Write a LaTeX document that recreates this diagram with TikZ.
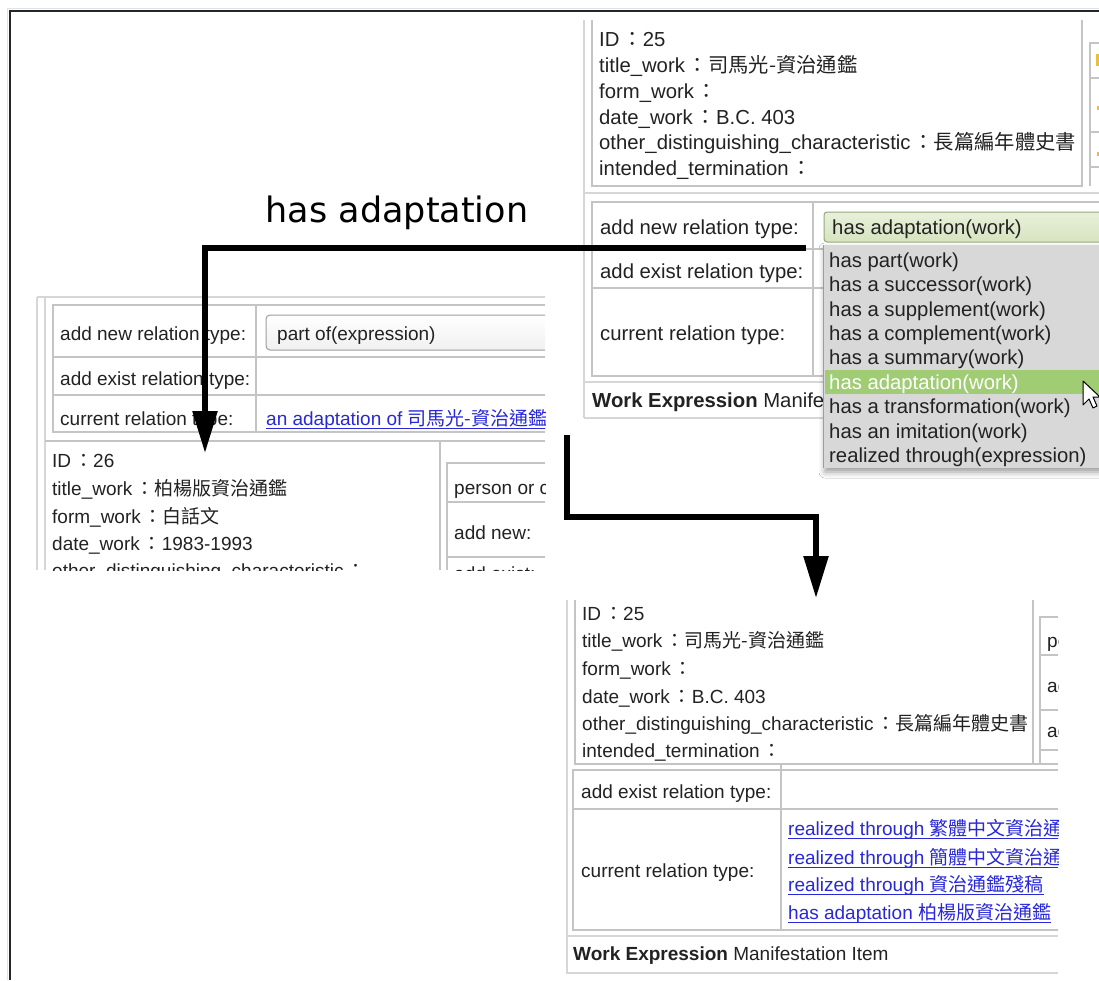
\documentclass[tikz,border=0pt]{standalone}
\usepackage{fontspec}
\setmainfont{Liberation Sans}
\newfontfamily\cjkfont{Noto Sans CJK TC}
\newfontfamily\headfont{DejaVu Sans}
\usetikzlibrary{arrows.meta,shadows.blur}
\newcommand\zh[1]{{\cjkfont #1}}
\newcommand\fwc{\hspace{3pt}\zh{：}}
\definecolor{ink}{RGB}{34,34,34}
\definecolor{rule}{RGB}{196,196,196}
\definecolor{rulelight}{RGB}{214,214,214}
\definecolor{linkblue}{RGB}{40,40,215}
\definecolor{menugray}{RGB}{216,216,216}
\definecolor{menuhi}{RGB}{160,204,116}
\definecolor{selgreen}{RGB}{214,228,190}
\definecolor{selborder}{RGB}{150,168,122}
\definecolor{framegray}{RGB}{221,227,238}
\definecolor{marker}{RGB}{236,190,60}

\tikzset{
  ui/.style={anchor=base west, inner sep=0pt, font=\fontsize{20.3}{24}\selectfont, text=ink},
  uis/.style={ui, font=\fontsize{19}{23}\selectfont},
  uilink/.style={uis, text=linkblue},
  hiitem/.style={ui, text=white},
  cell/.style={draw=rule, line width=1.3pt},
  outer/.style={draw=rulelight, line width=1.3pt},
  bigarrow/.style={line width=5.5pt, line join=miter, -{Triangle[length=42pt,width=24pt]}},
  headline/.style={font=\headfont\fontsize{35}{40}\selectfont, text=black, inner sep=0pt}
}
% a blue underlined link text
\newcommand\uilinknode[3]{%
  \node[uilink] (#1) at #2 {#3};
  \draw[linkblue, line width=1pt] ([yshift=-3pt]#1.base west) -- ([yshift=-3pt]#1.base east);}

\begin{document}
\begin{tikzpicture}[x=1pt, y=-1pt]
\useasboundingbox (0,0) rectangle (1099,980);
\fill[white] (0,0) rectangle (1099,980);

% page frame
\draw[framegray, line width=1pt] (7,980) -- (7,8) -- (1099,8);
\draw[black!85, line width=2pt] (10,980) -- (10,11) -- (1099,11);

% ---------- work record 25 with the relation menu open ----------
\begin{scope}
\clip (580,18) rectangle (1099,482);
% info cell
\draw[outer] (584,20) -- (584,418);
\draw[cell] (592,20) -- (592,186) -- (1082,186) -- (1082,20);
\draw[outer] (584,193) -- (1099,193);
% side table
\draw[cell] (1099,43) -- (1090,43) -- (1090,186);
\foreach \yy in {78,132,167} \draw[cell] (1090,\yy) -- (1099,\yy);
\fill[marker] (1096,54) rectangle (1099,66);
\fill[marker] (1097,106) rectangle (1099,110);
\fill[marker] (1097,152) rectangle (1099,156);
\node[ui] (a1) at (599,46)  {ID\fwc 25};
\node[ui] (a2) at (599,72)  {title\_work\fwc\zh{司馬光-資治通鑑}};
\node[ui] (a3) at (599,98)  {form\_work\fwc};
\node[ui] (a4) at (599,124) {date\_work\fwc B.C. 403};
\node[ui] (a5) at (599,149) {other\_distinguishing\_characteristic\fwc\zh{長篇編年體史書}};
\node[ui] (a6) at (599,175) {intended\_termination\fwc};
% relation table
\draw[cell] (1099,202) -- (592,202) -- (592,376) -- (1099,376);
\draw[cell] (813,202) -- (813,376);
\draw[cell] (592,249) -- (1099,249);
\draw[cell] (592,288) -- (1099,288);
\draw[outer] (584,382) -- (1099,382);
\draw[outer] (584,418) -- (1099,418);
\node[ui] (b1) at (600,234) {add new relation type:};
\node[ui] (b2) at (600,278) {add exist relation type:};
\node[ui] (b3) at (600,340) {current relation type:};
\begin{scope}
\clip (584,384) rectangle (822,416);
\node[ui] (b4) at (592,407) {\textbf{Work Expression} Manifestation Item};
\end{scope}
% select box
\draw[selborder, line width=1pt, rounded corners=3pt, top color=selgreen!55, bottom color=selgreen]
  (824,212) rectangle (1110,242);
\node[ui] (sel) at (832,234) {has adaptation(work)};
% drop-down list
\fill[menugray, blur shadow={shadow xshift=2pt, shadow yshift=-4pt, shadow blur radius=6pt}]
  (823,245) rectangle (1110,468);
\draw[rule!80!black, line width=1pt] (823,468) -- (823,245);
\fill[menuhi] (825,370) rectangle (1110,394);
\node[ui] (m1) at (829,267) {has part(work)};
\node[ui] (m2) at (829,291) {has a successor(work)};
\node[ui] (m3) at (829,316) {has a supplement(work)};
\node[ui] (m4) at (829,340) {has a complement(work)};
\node[ui] (m5) at (829,364) {has a summary(work)};
\node[hiitem] (m6) at (829,389) {has adaptation(work)};
\node[ui] (m7) at (829,413) {has a transformation(work)};
\node[ui] (m8) at (829,438) {has an imitation(work)};
\node[ui] (m9) at (829,462) {realized through(expression)};
% mouse pointer
\draw[black, fill=white, line width=1pt, line join=round]
  (1083,381) -- (1083,405) -- (1089,399) -- (1093,408) -- (1097,406) -- (1093,397) -- (1100,397) -- cycle;
\end{scope}

% ---------- work record 26 ----------
\begin{scope}
\clip (30,290) rectangle (545,570);
\draw[outer] (37,297) -- (545,297);
\draw[outer] (37,297) -- (37,570);
\draw[outer] (45,297) -- (45,570);
\draw[cell] (545,305) -- (53,305) -- (53,432) -- (545,432);
\draw[cell] (256,305) -- (256,432);
\draw[cell] (53,357) -- (545,357);
\draw[cell] (53,395) -- (545,395);
\draw[cell] (45,441) -- (545,441);
\draw[cell] (440,441) -- (440,570);
\node[uis] (c1) at (60,340) {add new relation type:};
\node[uis] (c2) at (60,385) {add exist relation type:};
\node[uis] (c3) at (60,425) {current relation type:};
\draw[rule!80!black, line width=1pt, rounded corners=4pt, top color=white, bottom color=black!6]
  (266,315) rectangle (570,350);
\node[uis] (c4) at (277,340) {part of(expression)};
\uilinknode{lnk}{(266,425)}{an adaptation of \zh{司馬光-資治通鑑}}
\node[uis] (d1) at (52,467) {ID\fwc 26};
\node[uis] (d2) at (52,495) {title\_work\fwc\zh{柏楊版資治通鑑}};
\node[uis] (d3) at (52,523) {form\_work\fwc\zh{白話文}};
\node[uis] (d4) at (52,550) {date\_work\fwc 1983-1993};
\node[uis] (d5) at (52,577) {other\_distinguishing\_characteristic\fwc};
\draw[cell] (545,463) -- (447,463) -- (447,570);
\draw[cell] (447,502) -- (545,502);
\draw[cell] (447,557) -- (545,557);
\node[uis] (e1) at (454,494) {person or corporate body:};
\node[uis] (e2) at (454,539) {add new:};
\node[uis] (e3) at (454,580) {add exist:};
\end{scope}

% ---------- work record 25 after the relation is added ----------
\begin{scope}
\clip (560,598) rectangle (1058,980);
\draw[outer] (567,600) -- (567,973) -- (1058,973);
\draw[outer] (567,936) -- (1058,936);
\draw[cell] (575,600) -- (575,764) -- (1058,764);
\draw[cell] (1033,600) -- (1033,764);
\draw[cell] (1058,617) -- (1040,617) -- (1040,764);
\foreach \yy in {655,710,750} \draw[cell] (1040,\yy) -- (1058,\yy);
\node[uis] (f1) at (582,620) {ID\fwc 25};
\node[uis] (f2) at (582,647) {title\_work\fwc\zh{司馬光-資治通鑑}};
\node[uis] (f3) at (582,675) {form\_work\fwc};
\node[uis] (f4) at (582,703) {date\_work\fwc B.C. 403};
\node[uis] (f5) at (582,730) {other\_distinguishing\_characteristic\fwc\zh{長篇編年體史書}};
\node[uis] (f6) at (582,757) {intended\_termination\fwc};
\node[uis] (g1) at (1047,647) {person};
\node[uis] (g2) at (1047,692) {add};
\node[uis] (g3) at (1047,737) {add};
\draw[cell] (1058,770) -- (573,770) -- (573,930) -- (1058,930);
\draw[cell] (781,764) -- (781,930);
\draw[cell] (573,809) -- (1058,809);
\node[uis] (h1) at (581,798) {add exist relation type:};
\node[uis] (h2) at (581,877) {current relation type:};
\uilinknode{k1}{(788,835)}{realized through \zh{繁體中文資治通鑑}}
\uilinknode{k2}{(788,864)}{realized through \zh{簡體中文資治通鑑}}
\uilinknode{k3}{(788,891)}{realized through \zh{資治通鑑殘稿}}
\uilinknode{k4}{(788,919)}{has adaptation \zh{柏楊版資治通鑑}}
\node[uis] (h3) at (573,960) {\textbf{Work Expression} Manifestation Item};
\end{scope}

% ---------- caption and arrows ----------
\node[headline] (title) at (397,213) {has adaptation};

\coordinate (fromsel) at (806,248);
\coordinate (to26) at (205,453);
\draw[bigarrow] (fromsel) -| (to26);

\coordinate (fromlink) at (567,435);
\coordinate (bend) at (816,517);
\coordinate (to25) at (816,598);
\draw[bigarrow] (fromlink) |- (bend) -- (to25);
\end{tikzpicture}
\end{document}
